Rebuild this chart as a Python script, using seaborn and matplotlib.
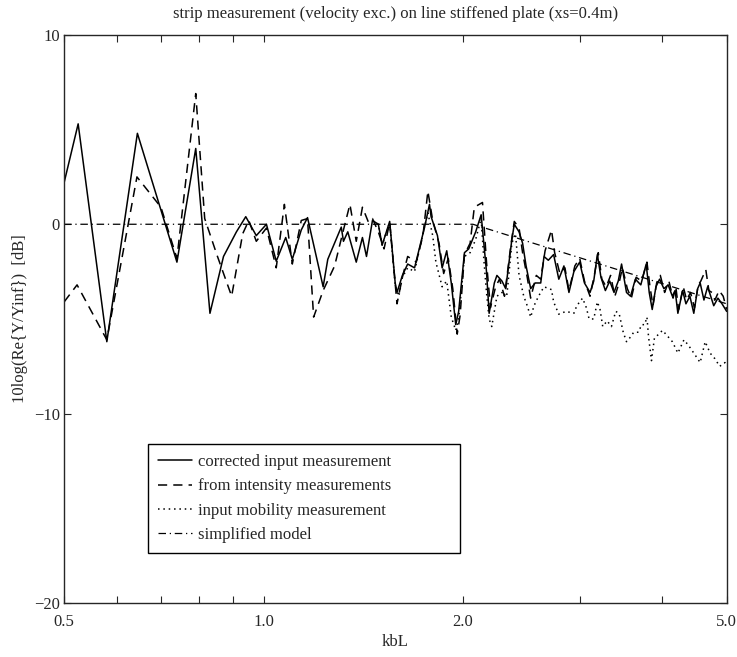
import seaborn as sns
import matplotlib
matplotlib.use("Agg")
import matplotlib.pyplot as plt
import pandas as pd

# corrected input measurement (solid)
corr_kbl = [0.50, 0.525, 0.58, 0.645, 0.74, 0.79, 0.83, 0.87, 0.91, 0.94, 0.975, 1.01, 1.045, 1.08,
            1.105, 1.14, 1.165, 1.23, 1.25, 1.31, 1.32, 1.34, 1.38, 1.41, 1.43, 1.46, 1.49, 1.51,
            1.55, 1.58, 1.59, 1.62, 1.65, 1.69, 1.75, 1.78, 1.79, 1.83, 1.86, 1.89, 1.92, 1.95,
            1.97, 2.01, 2.04, 2.09, 2.13, 2.17, 2.19, 2.23, 2.25, 2.29, 2.32, 2.37, 2.39, 2.43,
            2.46, 2.49, 2.53, 2.57, 2.62, 2.65, 2.69, 2.74, 2.79, 2.84, 2.89, 2.94, 3.00, 3.05,
            3.11, 3.15, 3.19, 3.23, 3.28, 3.33, 3.38, 3.43, 3.47, 3.53, 3.58, 3.64, 3.71, 3.78,
            3.82, 3.86, 3.91, 3.96, 4.02, 4.08, 4.14, 4.18, 4.22, 4.29, 4.34, 4.40, 4.46, 4.52,
            4.56, 4.62, 4.68, 4.73, 4.78, 4.85, 4.92, 5.00]
corr_db = [2.2, 5.3, -6.2, 4.8, -2.0, 4.0, -4.7, -1.7, -0.4, 0.4, -0.6, 0.0, -1.95, -0.7,
           -1.85, -0.3, 0.35, -3.3, -1.85, -0.15, -0.9, -0.4, -2.0, -0.7, -1.7, 0.2, 0.0, -1.1,
           0.15, -3.1, -3.6, -2.7, -2.1, -2.3, -0.15, 1.05, 0.4, -0.6, -2.3, -1.4, -3.1, -5.3,
           -4.6, -1.5, -1.3, -0.4, 0.5, -2.5, -4.7, -3.1, -2.7, -3.0, -3.4, -0.8, 0.0, -0.4,
           -1.0, -2.2, -3.4, -3.1, -3.1, -1.7, -1.9, -1.6, -2.9, -2.2, -3.6, -2.5, -2.0, -3.1,
           -3.6, -3.0, -1.6, -2.8, -3.5, -3.0, -3.6, -3.0, -2.1, -3.6, -3.8, -2.9, -3.2, -2.1,
           -3.6, -4.5, -3.3, -2.9, -3.4, -3.2, -3.8, -3.5, -4.7, -3.5, -4.2, -3.8, -4.7, -3.4,
           -3.1, -4.0, -3.3, -3.8, -4.3, -3.9, -4.2, -4.6]

# from intensity measurements (dashed)
int_kbl = [0.50, 0.523, 0.58, 0.644, 0.70, 0.74, 0.79, 0.815, 0.85, 0.895, 0.93, 0.95, 0.975, 1.01,
           1.045, 1.075, 1.105, 1.14, 1.165, 1.19, 1.23, 1.28, 1.32, 1.35, 1.38, 1.41, 1.44, 1.46,
           1.49, 1.52, 1.55, 1.59, 1.62, 1.65, 1.70, 1.74, 1.77, 1.80, 1.84, 1.87, 1.90, 1.93,
           1.96, 1.98, 2.01, 2.05, 2.08, 2.14, 2.17, 2.20, 2.24, 2.27, 2.31, 2.36, 2.39, 2.43,
           2.46, 2.50, 2.53, 2.58, 2.62, 2.66, 2.72, 2.75, 2.80, 2.85, 2.89, 2.95, 3.00, 3.05,
           3.11, 3.16, 3.20, 3.24, 3.29, 3.34, 3.39, 3.44, 3.48, 3.54, 3.59, 3.65, 3.72, 3.79,
           3.83, 3.87, 3.92, 3.97, 4.03, 4.09, 4.15, 4.19, 4.23, 4.30, 4.35, 4.41, 4.47, 4.53,
           4.57, 4.65, 4.70, 4.75, 4.80, 4.87, 4.94, 5.00]
int_db = [-4.1, -3.2, -6.1, 2.5, 0.9, -1.8, 6.9, 0.3, -1.6, -3.8, -0.5, 0.2, -0.9, -0.2,
          -2.3, 1.05, -2.1, 0.2, 0.3, -4.9, -3.5, -2.2, -0.3, 1.05, -0.9, 0.9, 0.1, 0.3,
          -0.4, -1.3, 0.1, -4.2, -2.8, -1.7, -2.0, -0.6, 1.75, 0.2, -1.0, -2.6, -1.8, -3.4,
          -5.8, -4.8, -1.6, -1.0, 0.9, 1.15, -2.0, -4.4, -3.3, -2.9, -3.8, -1.2, 0.15, -0.2,
          -1.5, -2.8, -3.9, -2.7, -2.9, -1.4, -0.3, -1.5, -2.6, -2.3, -3.5, -2.2, -1.8, -3.0,
          -3.8, -2.6, -1.5, -2.9, -3.3, -2.7, -3.8, -3.1, -2.3, -3.4, -3.9, -2.8, -3.0, -2.0,
          -3.3, -4.3, -3.1, -2.7, -3.6, -3.0, -3.9, -3.3, -4.5, -3.3, -4.0, -3.6, -4.4, -3.2,
          -3.0, -2.4, -3.5, -3.6, -4.0, -3.5, -3.8, -4.5]

# input mobility measurement (dotted), hidden under the solid line below kbL 1.45
mob_kbl = [1.46, 1.49, 1.51, 1.55, 1.58, 1.60, 1.62, 1.65, 1.69, 1.74, 1.77, 1.80, 1.82, 1.86,
           1.89, 1.92, 1.95, 1.97, 2.01, 2.05, 2.09, 2.13, 2.15, 2.17, 2.19, 2.21, 2.25, 2.29,
           2.33, 2.37, 2.40, 2.43, 2.47, 2.50, 2.53, 2.56, 2.60, 2.65, 2.72, 2.74, 2.79, 2.86,
           2.94, 2.97, 3.03, 3.07, 3.10, 3.15, 3.19, 3.22, 3.25, 3.30, 3.35, 3.40, 3.44, 3.49,
           3.53, 3.57, 3.62, 3.68, 3.72, 3.76, 3.79, 3.81, 3.85, 3.89, 3.95, 4.00, 4.07, 4.14,
           4.22, 4.31, 4.38, 4.46, 4.56, 4.64, 4.72, 4.80, 4.88, 4.97, 5.00]
mob_db = [0.2, 0.0, -1.1, 0.1, -3.2, -3.8, -2.8, -2.3, -2.5, -0.5, 0.6, -0.6, -2.0, -3.3,
          -3.0, -4.9, -5.6, -5.0, -1.7, -1.5, -0.8, 0.3, -1.85, -3.6, -5.0, -5.4, -3.8, -3.6,
          -3.7, -1.0, -0.5, -2.7, -3.8, -4.3, -4.9, -4.3, -3.8, -3.3, -3.45, -4.1, -4.75, -4.6,
          -4.7, -4.3, -3.9, -4.4, -5.0, -5.0, -4.1, -4.5, -5.4, -5.1, -5.4, -4.6, -4.7, -5.7,
          -6.2, -6.0, -5.7, -5.7, -5.3, -5.3, -4.9, -5.9, -7.2, -6.0, -5.8, -5.6, -5.9, -6.2,
          -6.8, -6.1, -6.4, -6.8, -7.3, -6.2, -6.8, -7.1, -7.5, -7.3, -7.5]

# simplified model (dash-dot)
model_kbl = [0.5, 2.07, 5.0]
model_db = [0.0, 0.0, -4.2]

xticks = [0.5, 0.6, 0.7, 0.8, 0.9, 1.0, 2.0, 3.0, 4.0, 5.0]
xticklabels = ["0.5", "", "", "", "", "1.0", "2.0", "", "", "5.0"]
yticks = [-20, -10, 0, 10]

sns.set_style("ticks")
plt.rcParams.update({
    "font.family": ["Liberation Serif", "DejaVu Serif"],
    "font.size": 12,
    "xtick.direction": "in",
    "ytick.direction": "in",
    "xtick.top": True,
    "ytick.right": True,
    "axes.linewidth": 1.0,
})

fig = plt.figure(figsize=(7.37, 6.57), dpi=100)
ax = fig.add_axes([0.087, 0.082, 0.899, 0.865])

sns.lineplot(x=corr_kbl, y=corr_db, ax=ax, color="black", lw=1.1,
             linestyle="-", label="corrected input measurement")
sns.lineplot(x=int_kbl, y=int_db, ax=ax, color="black", lw=1.1,
             linestyle=(0, (6, 4)), label="from intensity measurements")
sns.lineplot(x=mob_kbl, y=mob_db, ax=ax, color="black", lw=1.1,
             linestyle=(0, (1, 2.5)), label="input mobility measurement")
sns.lineplot(x=model_kbl, y=model_db, ax=ax, color="black", lw=0.9,
             linestyle=(0, (6, 3, 1, 3)), label="simplified model")

ax.set_xscale("log")
ax.set_xlim(0.5, 5.0)
ax.set_ylim(-20, 10)
ax.set_xticks(xticks)
ax.set_xticklabels(xticklabels)
ax.minorticks_off()
ax.set_yticks(yticks)
ax.tick_params(length=5, width=0.8, labelsize=12)
ax.tick_params(axis="x", pad=8)
ax.tick_params(axis="y", pad=3)

ax.set_title("strip measurement (velocity exc.) on line stiffened plate (xs=0.4m)",
             fontsize=12, pad=12)
ax.set_xlabel("kbL", fontsize=12, labelpad=3)
ax.set_ylabel("10log(Re{Y/Yinf})  [dB]", fontsize=12, labelpad=4)

leg = ax.legend(loc="upper left", bbox_to_anchor=(0.127, 0.28, 0.47, 0.0),
                mode="expand", frameon=True, fancybox=False, framealpha=1,
                edgecolor="black", fontsize=12, handlelength=2.0,
                labelspacing=0.5, borderpad=0.6, handletextpad=0.4,
                borderaxespad=0)
leg.get_frame().set_linewidth(1.0)

fig.savefig("out.png", dpi=100)
